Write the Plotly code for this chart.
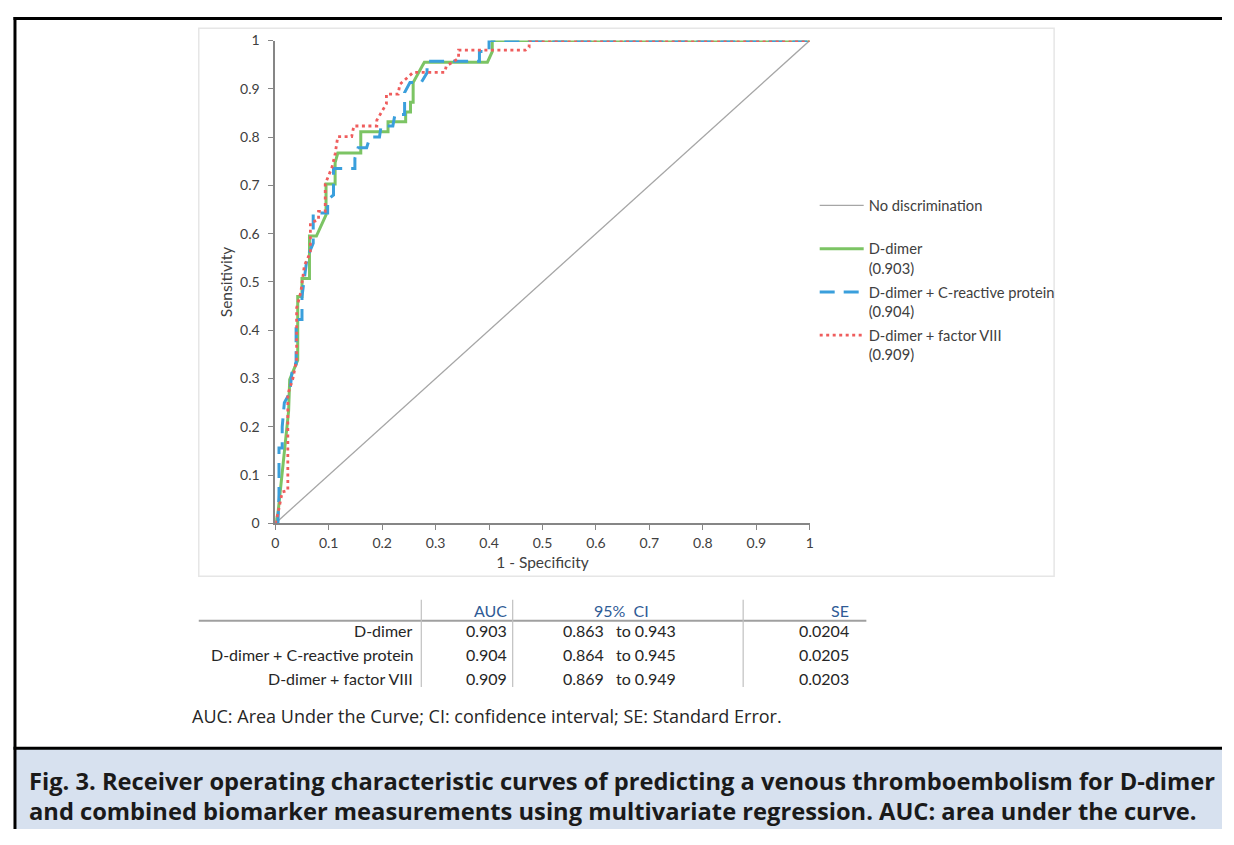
import plotly.graph_objects as go

# page is 1234x845 including the browser's 8px body margin
W, H = 1218, 829
OFF = 8

# ---------------- data ----------------
diag_x = [0, 1]
diag_y = [0, 1]

dd_x = [0, 0.005, 0.025, 0.027, 0.042, 0.042, 0.050, 0.050, 0.064, 0.064, 0.077, 0.087, 0.095, 0.095,
        0.112, 0.112, 0.117, 0.160, 0.160, 0.211, 0.211, 0.244, 0.244, 0.253, 0.253, 0.258, 0.258,
        0.275, 0.279, 0.397, 0.406, 0.406, 1]
dd_y = [0, 0.02, 0.233, 0.298, 0.338, 0.470, 0.470, 0.507, 0.507, 0.595, 0.595, 0.619, 0.639, 0.703,
        0.703, 0.747, 0.767, 0.767, 0.811, 0.811, 0.832, 0.832, 0.852, 0.852, 0.872, 0.872, 0.913,
        0.947, 0.955, 0.955, 0.977, 1, 1]

crp_x = [0, 0.005, 0.007, 0.007, 0.013, 0.013, 0.017, 0.027, 0.033, 0.039, 0.039, 0.050, 0.050,
         0.0545, 0.0595, 0.071, 0.071, 0.098, 0.098, 0.109, 0.109, 0.149, 0.149, 0.155, 0.171,
         0.177, 0.195, 0.198, 0.220, 0.224, 0.242, 0.242, 0.252, 0.273, 0.284, 0.284, 0.301,
         0.382, 0.382, 0.400, 0.400, 1]
crp_y = [0, 0.0, 0.06, 0.156, 0.156, 0.20, 0.25, 0.27, 0.33, 0.33, 0.422, 0.422, 0.47, 0.51, 0.55,
         0.58, 0.643, 0.643, 0.67, 0.68, 0.735, 0.735, 0.756, 0.778, 0.778, 0.80, 0.80, 0.823,
         0.823, 0.847, 0.847, 0.892, 0.913, 0.913, 0.933, 0.957, 0.957, 0.957, 0.977, 0.977, 1, 1]

f8_x = [0, 0.005, 0.013, 0.0235, 0.0235, 0.033, 0.040, 0.040, 0.048, 0.0545, 0.0657, 0.0657, 0.081,
        0.081, 0.0935, 0.0935, 0.106, 0.112, 0.117, 0.143, 0.147, 0.190, 0.190, 0.208, 0.208, 0.230,
        0.233, 0.255, 0.258, 0.317, 0.320, 0.343, 0.343, 0.468, 0.475, 0.475, 1]
f8_y = [0, 0.02, 0.065, 0.068, 0.267, 0.30, 0.34, 0.446, 0.48, 0.534, 0.561, 0.622, 0.629, 0.646,
        0.646, 0.703, 0.737, 0.765, 0.801, 0.801, 0.823, 0.823, 0.835, 0.869, 0.889, 0.889, 0.909,
        0.930, 0.934, 0.934, 0.947, 0.963, 0.98, 0.98, 0.986, 1, 1]

series_names = ["No discrimination<br> ", "D-dimer<br>(0.903)",
                "D-dimer + C-reactive protein<br>(0.904)", "D-dimer + factor VIII<br>(0.909)"]

tick_vals = [0, 0.1, 0.2, 0.3, 0.4, 0.5, 0.6, 0.7, 0.8, 0.9, 1]

# table
table_header = ["AUC", "95%  CI", "SE"]
row_labels = ["D-dimer", "D-dimer + C-reactive protein", "D-dimer + factor VIII"]
auc_vals = ["0.903", "0.904", "0.909"]
ci_low = ["0.863", "0.864", "0.869"]
ci_high = ["0.943", "0.945", "0.949"]
se_vals = ["0.0204", "0.0205", "0.0203"]

footnote = "AUC: Area Under the Curve; CI: confidence interval; SE: Standard Error."
caption_lines = ["Fig. 3. Receiver operating characteristic curves of predicting a venous thromboembolism for D-dimer",
                 "and combined biomarker measurements using multivariate regression. AUC: area under the curve."]

# ---------------- helpers (screen pixel -> paper) ----------------
def px(x):
    return (x - OFF) / W

def py(y):
    return 1 - (y - OFF) / H

CHART_FONT = "Lato"
TXT = "#404040"

fig = go.Figure()
fig.add_trace(go.Scatter(x=diag_x, y=diag_y, mode="lines", name=series_names[0], legendgroup="a",
                         line=dict(color="#a6a6a6", width=1.3), cliponaxis=False))
fig.add_trace(go.Scatter(x=dd_x, y=dd_y, mode="lines", name=series_names[1], legendgroup="b",
                         line=dict(color="#7cc464", width=3), cliponaxis=False))
fig.add_trace(go.Scatter(x=crp_x, y=crp_y, mode="lines", name=series_names[2], legendgroup="c",
                         line=dict(color="#3a9fdc", width=3, dash="15px,9px"), cliponaxis=False))
fig.add_trace(go.Scatter(x=f8_x, y=f8_y, mode="lines", name=series_names[3], legendgroup="d",
                         line=dict(color="#ef5d5d", width=2.8, dash="3px,3.5px"), cliponaxis=False))

axis_common = dict(range=[0, 1], tickvals=tick_vals, showgrid=False, zeroline=False,
                   showline=True, linecolor="#868686", linewidth=1.6,
                   ticks="outside", ticklen=5, tickcolor="#868686", tickwidth=1.3,
                   tickfont=dict(family=CHART_FONT, size=14, color=TXT))

fig.update_xaxes(domain=[px(273), px(811)], ticklabelstandoff=1,
                 title=dict(text="1 - Specificity", font=dict(family=CHART_FONT, size=15.5, color=TXT), standoff=7),
                 **axis_common)
fig.update_yaxes(domain=[py(525), py(32)], ticklabelstandoff=6,
                 title=dict(text="Sensitivity", font=dict(family=CHART_FONT, size=15.5, color=TXT), standoff=4),
                 **axis_common)

shapes = []
# chart box
shapes.append(dict(type="rect", xref="paper", yref="paper", x0=px(196), x1=px(1057), y0=py(579), y1=py(19.5),
                   line=dict(color="#e6e6e6", width=1.5), fillcolor="rgba(0,0,0,0)", layer="below"))
# caption background
shapes.append(dict(type="rect", xref="paper", yref="paper", x0=px(11), x1=1, y0=0, y1=py(755),
                   line=dict(width=0), fillcolor="#d7e1ef", layer="below"))
# black frame lines
shapes.append(dict(type="line", xref="paper", yref="paper", x0=px(11), x1=px(11), y0=0, y1=py(8),
                   line=dict(color="black", width=3)))
shapes.append(dict(type="line", xref="paper", yref="paper", x0=px(9.5), x1=1, y0=py(9.5), y1=py(9.5),
                   line=dict(color="black", width=3)))
shapes.append(dict(type="line", xref="paper", yref="paper", x0=px(9.5), x1=1, y0=py(754.5), y1=py(754.5),
                   line=dict(color="black", width=3)))
# table lines
shapes.append(dict(type="line", xref="paper", yref="paper", x0=px(196), x1=px(868), y0=py(624.5), y1=py(624.5),
                   line=dict(color="#a0a0a0", width=2)))
for vx in [420, 512, 744]:
    shapes.append(dict(type="line", xref="paper", yref="paper", x0=px(vx), x1=px(vx), y0=py(692), y1=py(603),
                       line=dict(color="#c0c0c0", width=1.2)))

annotations = []
TFONT = dict(family=CHART_FONT, size=16, color="#262626")
HFONT = dict(family=CHART_FONT, size=16, color="#2f5b96")

def ann(text, x, y, xanchor, font):
    annotations.append(dict(text=text, x=px(x), y=py(y), xref="paper", yref="paper",
                            xanchor=xanchor, yanchor="middle", showarrow=False, font=font))

ann(table_header[0], 508, 614, "right", HFONT)
ann(table_header[1], 622, 614, "center", HFONT)
ann(table_header[2], 853, 614, "right", HFONT)
row_y = [634, 659, 683]
for i in range(3):
    ann(row_labels[i], 414, row_y[i], "right", TFONT)
    ann(auc_vals[i], 508, row_y[i], "right", TFONT)
    ann(ci_low[i], 561, row_y[i], "left", TFONT)
    ann("to " + ci_high[i], 614, row_y[i], "left", TFONT)
    ann(se_vals[i], 853, row_y[i], "right", TFONT)

ann(footnote, 187, 722, "left", dict(family="Open Sans", size=18, color="#262626"))
ann("<b>" + caption_lines[0] + "</b>", 23, 788, "left", dict(family="Open Sans", size=23.7, color="#1a1a1a"))
ann("<b>" + caption_lines[1] + "</b>", 23, 819, "left", dict(family="Open Sans", size=23.7, color="#1a1a1a"))

fig.update_layout(
    width=W, height=H, margin=dict(l=0, r=0, t=0, b=0),
    paper_bgcolor="white", plot_bgcolor="white",
    shapes=shapes, annotations=annotations,
    showlegend=True,
    legend=dict(x=px(816), y=py(184), xanchor="left", yanchor="top", valign="top",
                traceorder="grouped",
                font=dict(family=CHART_FONT, size=14.7, color=TXT),
                bgcolor="rgba(0,0,0,0)", tracegroupgap=2, itemwidth=44),
)

fig.write_html("out.html")
